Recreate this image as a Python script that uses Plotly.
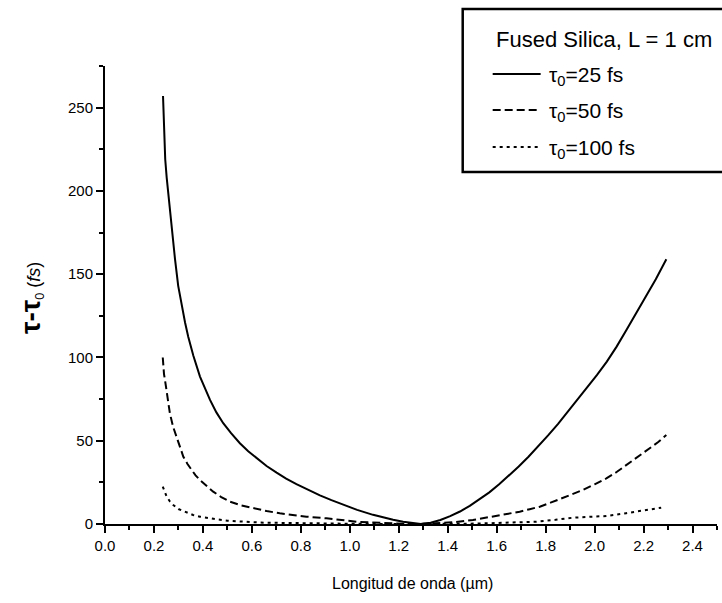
import plotly.graph_objects as go

# Pulse broadening (tau - tau0, fs) after 1 cm of fused silica vs wavelength (um)
wl_25 = [0.237, 0.241, 0.246, 0.252, 0.262, 0.272, 0.286, 0.299, 0.313, 0.327,
         0.340, 0.361, 0.388, 0.410, 0.429, 0.455, 0.483, 0.515, 0.551, 0.585,
         0.619, 0.660, 0.701, 0.740, 0.782, 0.830, 0.878, 0.925, 0.973, 1.030,
         1.095, 1.135, 1.177, 1.218, 1.258, 1.290, 1.330, 1.370, 1.410, 1.450,
         1.490, 1.530, 1.570, 1.610, 1.650, 1.690, 1.730, 1.770, 1.810, 1.850,
         1.890, 1.930, 1.970, 2.010, 2.050, 2.090, 2.130, 2.170, 2.210, 2.250,
         2.293]
tau_25 = [257, 235, 219, 208, 193, 178, 159, 143, 131, 121,
          112.5, 101, 88.5, 80.5, 74.5, 67, 60.5, 54.5, 48.5, 43.7,
          39.4, 34.8, 30.8, 27.2, 23.9, 20.4, 17.2, 14.3, 11.5, 8.5,
          5.5, 3.9, 2.5, 1.4, 0.5, 0, 0.8, 2.4, 4.7, 7.5,
          10.9, 14.7, 19.0, 23.8, 29.0, 34.5, 40.4, 46.6, 53.2, 60.0,
          67.2, 74.5, 82.0, 89.5, 97.5, 106.5, 116.5, 126.5, 136.5, 147,
          159]

wl_50 = [0.236, 0.238, 0.241, 0.245, 0.250, 0.255, 0.265, 0.278, 0.292, 0.305,
         0.320, 0.337, 0.354, 0.370, 0.388, 0.415, 0.442, 0.475, 0.510, 0.555,
         0.605, 0.660, 0.714, 0.770, 0.823, 0.905, 0.965, 1.027, 1.090, 1.150,
         1.220, 1.290, 1.350, 1.420, 1.503, 1.585, 1.640, 1.694, 1.735, 1.776,
         1.820, 1.864, 1.910, 1.952, 2.000, 2.048, 2.090, 2.129, 2.175, 2.224,
         2.260, 2.293]
tau_50 = [100, 95, 90, 86.5, 81, 75, 66.5, 58.5, 52.4, 46,
          40.4, 36, 32.4, 29.2, 26.4, 22.6, 19.4, 16.2, 13.4, 11.2,
          9.4, 7.8, 6.4, 5.3, 4.4, 3.4, 2.4, 1.4, 0.9, 0.4,
          0.1, 0, 0.3, 1.0, 2.4, 4.4, 5.8, 7.4, 8.9, 10.4,
          12.8, 15.4, 17.9, 20.4, 23.8, 27.4, 31.2, 35.4, 40.2, 45.4,
          49.2, 53.4]

wl_100 = [0.236, 0.244, 0.252, 0.265, 0.279, 0.300, 0.333, 0.360, 0.388, 0.420,
          0.456, 0.500, 0.551, 0.600, 0.650, 0.720, 0.800, 0.900, 1.000, 1.150,
          1.290, 1.450, 1.560, 1.650, 1.762, 1.840, 1.912, 1.980, 2.048, 2.129,
          2.211, 2.272]
tau_100 = [22.5, 19.2, 16.4, 13.6, 11.4, 9.0, 6.8, 5.4, 4.4, 3.5,
           2.8, 2.0, 1.4, 1.1, 0.8, 0.6, 0.4, 0.25, 0.15, 0.05,
           0, 0.1, 0.4, 0.8, 1.4, 2.5, 3.8, 4.3, 4.8, 6.5,
           8.2, 9.8]

legend_title = "Fused Silica, L = 1 cm"
series_names = ["τ<sub>0</sub>=25 fs", "τ<sub>0</sub>=50 fs", "τ<sub>0</sub>=100 fs"]
series_dash = ["solid", "8px,4px", "3px,4px"]

FONT = "Arial, Liberation Sans, sans-serif"

fig = go.Figure()
for wl, tau, name, dash in zip([wl_25, wl_50, wl_100], [tau_25, tau_50, tau_100],
                               series_names, series_dash):
    fig.add_trace(go.Scatter(x=wl, y=tau, mode="lines", name=name,
                             line=dict(color="black", width=2, dash=dash),
                             showlegend=False))

axis_common = dict(
    showline=True, linecolor="black", linewidth=2,
    showgrid=False, zeroline=False,
    ticks="outside", ticklen=7, tickwidth=2, tickcolor="black",
    tickfont=dict(family=FONT, size=15, color="black"),
)

fig.update_xaxes(range=[0, 2.5], tick0=0, dtick=0.2, tickformat=".1f",
                 minor=dict(dtick=0.1, ticks="outside", ticklen=4, tickwidth=2,
                            tickcolor="black"),
                 **axis_common)
fig.update_yaxes(range=[0, 275], tick0=0, dtick=50,
                 minor=dict(dtick=25, ticks="outside", ticklen=4, tickwidth=2,
                            tickcolor="black"),
                 **axis_common)

# plot-area pixel geometry used to place the legend block
L, R, T, B = 105, 4.5, 66, 79
W, H = 722, 603
pw, ph = W - L - R, H - T - B


def px(x):
    return (x - L) / pw


def py(y):
    return (H - B - y) / ph


shapes = [dict(type="rect", xref="paper", yref="paper",
               x0=px(463), x1=px(760), y0=py(172), y1=py(9),
               line=dict(color="black", width=2.5), fillcolor="white", layer="above")]
annotations = [dict(xref="paper", yref="paper", x=px(494), y=py(39),
                    xanchor="left", yanchor="middle", showarrow=False,
                    text=legend_title, font=dict(family=FONT, size=22, color="black"))]
for i, (name, dash) in enumerate(zip(series_names, series_dash)):
    ly = [74, 110, 147][i]
    shapes.append(dict(type="line", xref="paper", yref="paper",
                       x0=px(493), x1=px(541), y0=py(ly), y1=py(ly),
                       line=dict(color="black", width=2, dash=dash), layer="above"))
    annotations.append(dict(xref="paper", yref="paper", x=px(547), y=py(ly + 2),
                            xanchor="left", yanchor="middle", showarrow=False,
                            text=name, font=dict(family=FONT, size=21, color="black")))

# axis titles
annotations.append(dict(xref="paper", yref="paper", x=px(413), y=py(583),
                        xanchor="center", yanchor="middle", showarrow=False,
                        text="Longitud de onda (µm)",
                        font=dict(family=FONT, size=16, color="black")))
annotations.append(dict(xref="paper", yref="paper", x=px(31), y=py(298),
                        xanchor="center", yanchor="middle", showarrow=False,
                        textangle=-90,
                        text='<span style="font-size:28px"><b>τ-τ</b></span><sub>0</sub> (<i>fs</i>)',
                        font=dict(family=FONT, size=18, color="black")))

fig.update_layout(
    width=W, height=H,
    margin=dict(l=L, r=R, t=T, b=B, pad=0),
    paper_bgcolor="white", plot_bgcolor="white",
    shapes=shapes, annotations=annotations,
    showlegend=False,
)

fig.write_html("out.html")
